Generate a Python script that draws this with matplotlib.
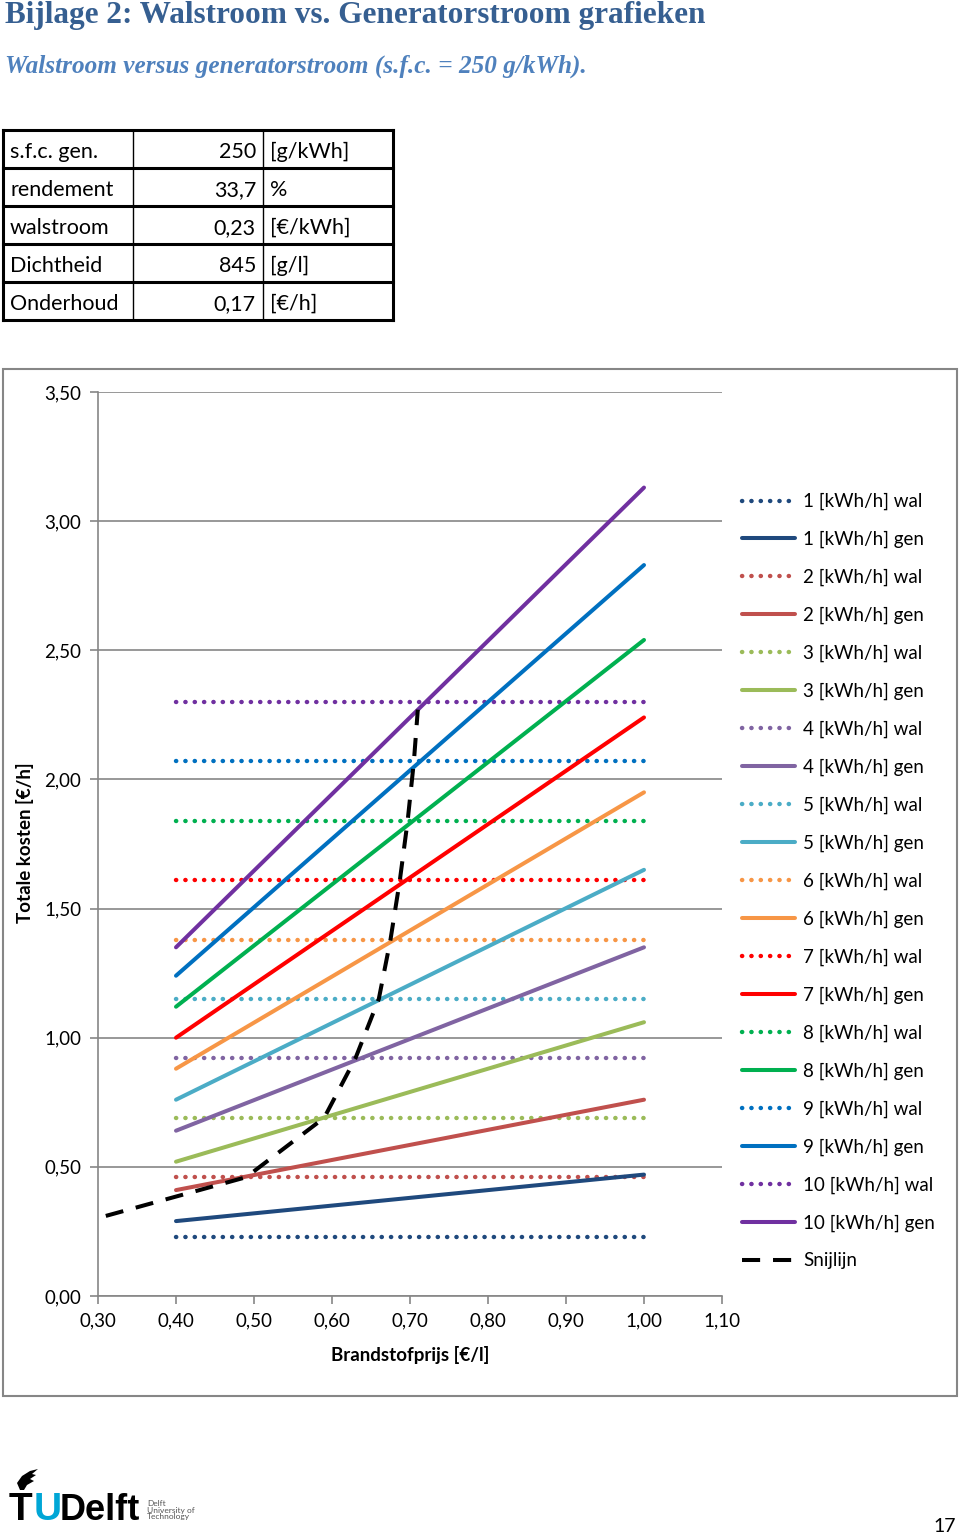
import matplotlib
matplotlib.use("Agg")
import matplotlib.pyplot as plt
from matplotlib.patches import Rectangle, Polygon

W, H = 960, 1537
DPI = 100

# ---------------- data ----------------
loads = ["1", "2", "3", "4", "5", "6", "7", "8", "9", "10"]
wal_cost = [0.23, 0.46, 0.69, 0.92, 1.15, 1.38, 1.61, 1.84, 2.07, 2.30]
price_range = [0.40, 1.00]
gen_start = [0.29, 0.41, 0.52, 0.64, 0.76, 0.88, 1.00, 1.12, 1.24, 1.35]
gen_end = [0.47, 0.76, 1.06, 1.35, 1.65, 1.95, 2.24, 2.54, 2.83, 3.13]
snij_x = [0.31, 0.49, 0.59, 0.63, 0.66, 0.675, 0.687, 0.697, 0.705, 0.71]
snij_y = [0.31, 0.46, 0.69, 0.92, 1.15, 1.38, 1.61, 1.84, 2.07, 2.27]
colors = ["#1F497D", "#C0504D", "#9BBB59", "#8064A2", "#4BACC6",
          "#F79646", "#FF0000", "#00B050", "#0070C0", "#7030A0"]
xticks = [0.30, 0.40, 0.50, 0.60, 0.70, 0.80, 0.90, 1.00, 1.10]
yticks = [0.0, 0.5, 1.0, 1.5, 2.0, 2.5, 3.0, 3.5]

table_rows = [("s.f.c. gen.", "250", "[g/kWh]"),
              ("rendement", "33,7", "%"),
              ("walstroom", "0,23", "[€/kWh]"),
              ("Dichtheid", "845", "[g/l]"),
              ("Onderhoud", "0,17", "[€/h]")]

SANS = ["Lato", "DejaVu Sans"]
plt.rcParams["font.family"] = SANS

fig = plt.figure(figsize=(W / DPI, H / DPI), dpi=DPI)

# page overlay axes in pixel coordinates
page = fig.add_axes([0, 0, 1, 1])
page.set_xlim(0, W)
page.set_ylim(H, 0)
page.axis("off")

page.text(5, 15, "Bijlage 2: Walstroom vs. Generatorstroom grafieken",
          family=["Liberation Serif"], weight="bold", fontsize=22.5,
          color="#365F91", va="center", ha="left")
page.text(5, 66, "Walstroom versus generatorstroom (s.f.c. = 250 g/kWh).",
          family=["Liberation Serif"], weight="bold", style="italic",
          fontsize=18.2, color="#4F81BD", va="center", ha="left")

# table
tx0, tx1 = 3, 393
row_h = 38
ty0 = 130
for i, (a, b, c) in enumerate(table_rows):
    yc = ty0 + row_h * i + row_h / 2 + 3
    page.text(10, yc, a, fontsize=15.5, va="center", ha="left")
    page.text(256, yc, b, fontsize=15.5, va="center", ha="right")
    page.text(270, yc, c, fontsize=15.5, va="center", ha="left")
for i in range(len(table_rows) + 1):
    y = ty0 + row_h * i
    page.plot([tx0, tx1], [y, y], color="black", lw=2.2, solid_capstyle="projecting")
page.plot([tx0, tx0], [ty0, ty0 + row_h * 5], color="black", lw=2.2)
page.plot([tx1, tx1], [ty0, ty0 + row_h * 5], color="black", lw=2.2)
page.plot([133, 133], [ty0, ty0 + row_h * 5], color="black", lw=1.0)
page.plot([263, 263], [ty0, ty0 + row_h * 5], color="black", lw=1.0)

# chart border
page.add_patch(Rectangle((3, 369), 954, 1027, fill=False, ec="#868686", lw=1.5))

# footer logo
page.add_patch(Polygon([(20, 1490), (17, 1483), (22, 1476), (30, 1471), (38, 1469),
                        (32, 1474), (36, 1475), (30, 1479), (34, 1481), (27, 1485),
                        (24, 1490)], closed=True, fc="black", ec="none"))
page.text(9, 1510, "T", fontsize=28, weight="bold", color="black", va="center", ha="left",
          family=["Liberation Sans"])
page.text(34, 1510, "U", fontsize=28, weight="bold", color="#00A6D6", va="center", ha="left",
          family=["Liberation Sans"])
page.text(60, 1510, "Delft", fontsize=26, weight="bold", color="black", va="center",
          ha="left", family=["Liberation Sans"])
page.text(147, 1510, "Delft\nUniversity of\nTechnology", fontsize=6, color="#555555",
          va="center", ha="left", linespacing=1.0)
page.text(945, 1527, "17", fontsize=14, va="center", ha="center")

# ---------------- main chart ----------------
left, right = 98 / W, 722 / W
bottom, top = (H - 1296) / H, (H - 392) / H
ax = fig.add_axes([left, bottom, right - left, top - bottom])
ax.set_xlim(0.30, 1.10)
ax.set_ylim(0, 3.5)

grid_c = "#868686"
for y in yticks:
    ax.axhline(y, color=grid_c, lw=1.2, zorder=0)

handles = []
for i in range(len(loads)):
    c = colors[i]
    lw_, = ax.plot(price_range, [wal_cost[i], wal_cost[i]], color=c, lw=3.2,
                   linestyle=(0, (0.05, 2.053)), dash_capstyle="round",
                   label=f"{loads[i]} [kWh/h] wal", zorder=2)
    lg, = ax.plot(price_range, [gen_start[i], gen_end[i]], color=c, lw=2.9,
                  solid_capstyle="round", label=f"{loads[i]} [kWh/h] gen", zorder=3)
    handles += [lw_, lg]
ls, = ax.plot(snij_x, snij_y, color="black", lw=2.9, linestyle=(0, (4.5, 3.2)),
              label="Snijlijn", zorder=4)
handles.append(ls)

for s in ["top", "right"]:
    ax.spines[s].set_visible(False)
for s in ["left", "bottom"]:
    ax.spines[s].set_color(grid_c)
    ax.spines[s].set_linewidth(1.2)
ax.set_xticks(xticks)
ax.set_yticks(yticks)
ax.set_xticklabels([f"{v:.2f}".replace(".", ",") for v in xticks], fontsize=13.5)
ax.set_yticklabels([f"{v:.2f}".replace(".", ",") for v in yticks], fontsize=13.5)
ax.tick_params(axis="both", direction="out", length=6, width=1.2, color=grid_c)
ax.tick_params(axis="x", pad=6)
ax.tick_params(axis="y", pad=6)
ax.set_facecolor("none")

page.text(410, 1355, "Brandstofprijs [€/l]", fontsize=13.5, weight="bold",
          va="center", ha="center")
page.text(25, 843, "Totale kosten [€/h]", fontsize=13.5, weight="bold",
          va="center", ha="center", rotation=90)

leg = fig.legend(handles=handles, loc="upper left",
                 bbox_to_anchor=(742 / W, 1 - 493 / H), frameon=False,
                 fontsize=13.5, handlelength=2.83, handletextpad=0.43,
                 labelspacing=1.1, borderaxespad=0, borderpad=0)

fig.savefig("out.png", dpi=DPI)
